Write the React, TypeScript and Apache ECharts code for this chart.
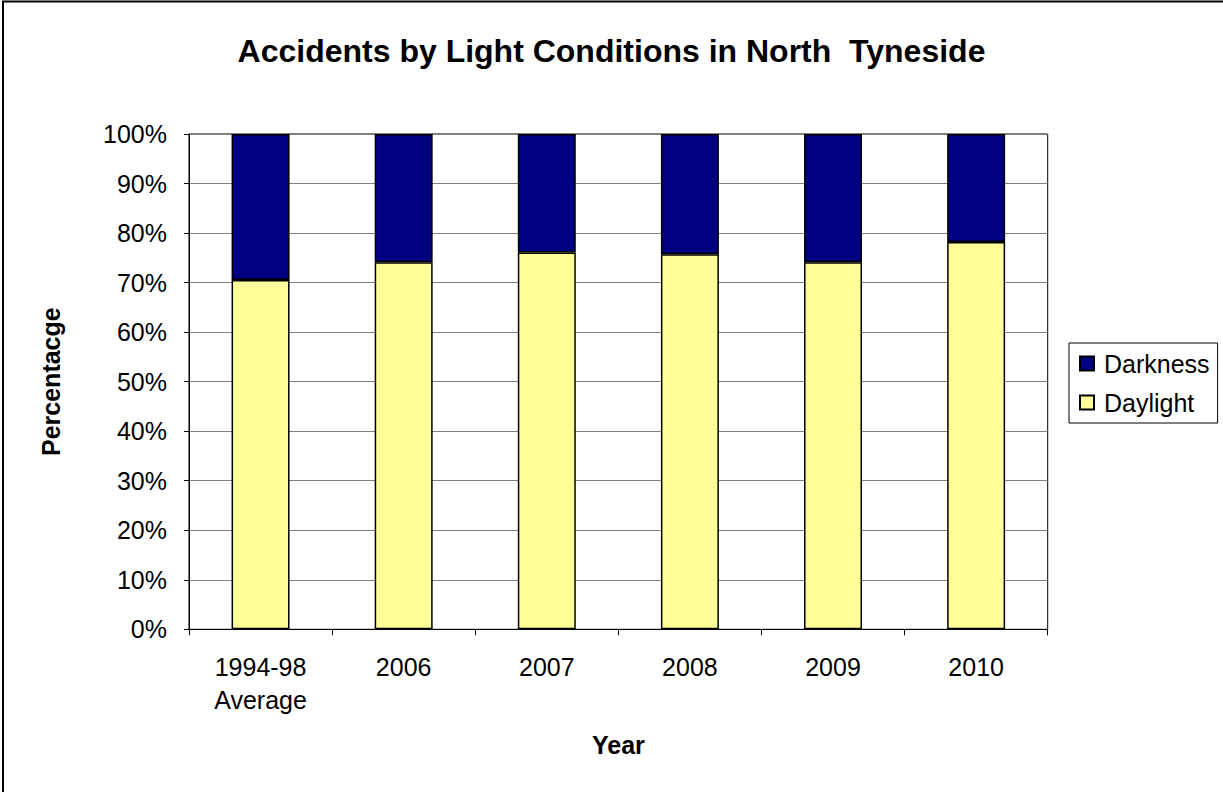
import React, { useEffect, useRef } from "react";
import * as echarts from "echarts";

const categories = ["1994-98\nAverage", "2006", "2007", "2008", "2009", "2010"];
const daylight = [70.5, 74.1, 76.1, 75.7, 74.1, 78.2];
const darkness = [29.5, 25.9, 23.9, 24.3, 25.9, 21.8];
const legendOrder = ["Darkness", "Daylight"];

const FONT = "Arial, 'Liberation Sans', sans-serif";

export default function App() {
  const ref = useRef<HTMLDivElement>(null);
  useEffect(() => {
    if (!ref.current) return;
    const chart = echarts.init(ref.current, null, { renderer: "svg" });
    chart.setOption({
      animation: false,
      backgroundColor: "#fff",
      textStyle: { fontFamily: FONT, color: "#000" },
      title: {
        text: "Accidents by Light Conditions in North  Tyneside",
        left: "center",
        top: 30,
        textStyle: { fontSize: 32, fontWeight: "bold", color: "#000", fontFamily: FONT },
      },
      graphic: [
        {
          type: "rect",
          shape: { x: 3, y: 1.5, width: 1400, height: 1000 },
          style: { fill: "none", stroke: "#000", lineWidth: 2 },
          silent: true,
        },
      ],
      legend: {
        data: legendOrder,
        orient: "vertical",
        left: 1069,
        top: 343,
        itemWidth: 14,
        itemHeight: 14,
        itemGap: 14,
        padding: [8, 8, 8, 10],
        borderColor: "#000",
        borderWidth: 1,
        icon: "rect",
        textStyle: { fontSize: 25, color: "#000", fontFamily: FONT, padding: [0, 0, 0, 5] },
      },
      grid: {
        left: 189,
        top: 134,
        width: 858.7,
        height: 495.3,
        show: true,
        borderColor: "#000",
        borderWidth: 1,
        containLabel: false,
      },
      xAxis: {
        type: "category",
        data: categories,
        name: "Year",
        nameLocation: "middle",
        nameGap: 103,
        nameTextStyle: { fontSize: 25, fontWeight: "bold", color: "#000", fontFamily: FONT, verticalAlign: "top" },
        axisLine: { show: true, lineStyle: { color: "#000", width: 1 } },
        axisTick: { show: true, alignWithLabel: false, length: 6, lineStyle: { color: "#000" } },
        axisLabel: { fontSize: 25, color: "#000", fontFamily: FONT, lineHeight: 33, margin: 21, interval: 0 },
        splitLine: { show: false },
      },
      yAxis: {
        type: "value",
        min: 0,
        max: 100,
        interval: 10,
        name: "Percentacge",
        nameLocation: "middle",
        nameGap: 126,
        nameTextStyle: { fontSize: 25, fontWeight: "bold", color: "#000", fontFamily: FONT },
        axisLine: { show: true, lineStyle: { color: "#000", width: 1 } },
        axisTick: { show: true, inside: false, length: 5, lineStyle: { color: "#000" } },
        axisLabel: { formatter: "{value}%", fontSize: 25, color: "#000", fontFamily: FONT, margin: 22 },
        splitLine: { show: true, lineStyle: { color: "#808080", width: 1 } },
      },
      series: [
        {
          name: "Daylight",
          type: "bar",
          stack: "total",
          data: daylight,
          barWidth: "40.5%",
          itemStyle: { color: "#FFFF99", borderColor: "#000", borderWidth: 1.5 },
        },
        {
          name: "Darkness",
          type: "bar",
          stack: "total",
          data: darkness,
          barWidth: "40.5%",
          itemStyle: { color: "#000080", borderColor: "#000", borderWidth: 1.5 },
        },
      ],
    });
    return () => chart.dispose();
  }, []);
  return (
    <div
      ref={ref}
      style={{ position: "fixed", left: 0, top: 0, width: 1223, height: 792, background: "#fff" }}
    />
  );
}
